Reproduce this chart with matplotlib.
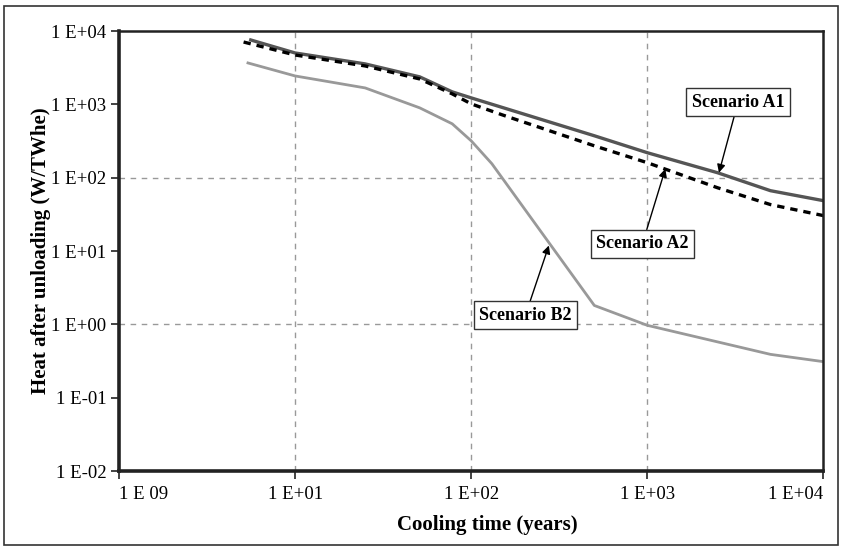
import matplotlib
matplotlib.use("Agg")
import matplotlib.pyplot as plt
from matplotlib.patches import Rectangle

plt.rcParams['font.family'] = ['Liberation Serif', 'DejaVu Serif']

# data (cooling time in years, heat in W/TWhe)
a1_t = [5.6, 10, 25, 51, 78, 100, 500, 1000, 2500, 5000, 10000]
a1_q = [7550, 5020, 3560, 2370, 1480, 1225, 373, 219, 117, 66.5, 48.6]

a2_t = [5.1, 10, 25, 51, 78, 100, 150, 500, 1000, 2500, 5000, 10000]
a2_q = [7080, 4710, 3340, 2220, 1390, 1015, 719, 272, 160, 73, 43, 30.4]

b2_t = [5.4, 10, 25, 51, 78, 100, 131, 500, 1000, 5000, 10000]
b2_q = [3670, 2440, 1675, 896, 543, 318, 155, 1.81, 0.97, 0.39, 0.31]

x_ticks = [1, 10, 100, 1000, 10000]
x_labels = ['1 E 09', '1 E+01', '1 E+02', '1 E+03', '1 E+04']
y_ticks = [1e-2, 1e-1, 1e0, 1e1, 1e2, 1e3, 1e4]
y_labels = ['1 E-02', '1 E-01', '1 E+00', '1 E+01', '1 E+02', '1 E+03', '1 E+04']

fig = plt.figure(figsize=(8.42, 5.49), dpi=100)
ax = fig.add_axes([0.1413, 0.142, 0.8367, 0.8015])

# outer frame around the whole figure
fig.patches.append(Rectangle((4 / 842, 4 / 549), 834 / 842, 539 / 549,
                             transform=fig.transFigure, fill=False,
                             ec='#333333', lw=1.2))

ax.set_xscale('log')
ax.set_yscale('log')
ax.set_xlim(1, 10000)
ax.set_ylim(1e-2, 1e4)

# grid: vertical every decade, horizontal every other decade
for v in [10, 100, 1000]:
    ax.axvline(v, color='#999999', lw=1, ls=(0, (4, 4)), zorder=0)
for h in [1, 100]:
    ax.axhline(h, color='#999999', lw=1, ls=(0, (4, 4)), zorder=0)

ax.plot(b2_t, b2_q, color='#999999', lw=2)
ax.plot(a1_t, a1_q, color='#555555', lw=2.4)
ax.plot(a2_t, a2_q, color='black', lw=2.4, ls=(0, (2.2, 1.8)))

ax.set_xticks(x_ticks)
ax.set_xticklabels(x_labels)
ax.set_yticks(y_ticks)
ax.set_yticklabels(y_labels)
ax.minorticks_off()
ax.tick_params(labelsize=13.5, length=6, width=1.2, color='#222222', pad=5)
ax.tick_params(axis='y', pad=3)
xl = ax.get_xticklabels()
xl[0].set_ha('left')
xl[-1].set_ha('right')

for side in ['left', 'bottom']:
    ax.spines[side].set_linewidth(2.6)
for side in ['top', 'right']:
    ax.spines[side].set_linewidth(1.8)
for s in ax.spines.values():
    s.set_color('#222222')

ax.set_xlabel('Cooling time (years)', fontsize=15, fontweight='bold', va='center')
ax.set_ylabel('Heat after unloading (W/TWhe)', fontsize=15, fontweight='bold', va='center')
ax.xaxis.set_label_coords(0.523, -0.123)
ax.yaxis.set_label_coords(-0.111, 0.5)

box = dict(boxstyle='square,pad=0.3', fc='white', ec='#333333', lw=1)
arrow = dict(arrowstyle='-|>', color='black', lw=1, mutation_scale=12, shrinkA=0, shrinkB=0)

ax.annotate('Scenario A1', xy=(2550, 117), xytext=(3270, 1065), fontsize=13,
            fontweight='bold', ha='center', va='center', bbox=box, arrowprops=arrow)
ax.annotate('Scenario A2', xy=(1265, 132), xytext=(937, 12.5), fontsize=13,
            fontweight='bold', ha='center', va='center', bbox=box, arrowprops=arrow)
ax.annotate('Scenario B2', xy=(276, 11.9), xytext=(203, 1.33), fontsize=13,
            fontweight='bold', ha='center', va='center', bbox=box, arrowprops=arrow)

fig.savefig('out.png', dpi=100)
